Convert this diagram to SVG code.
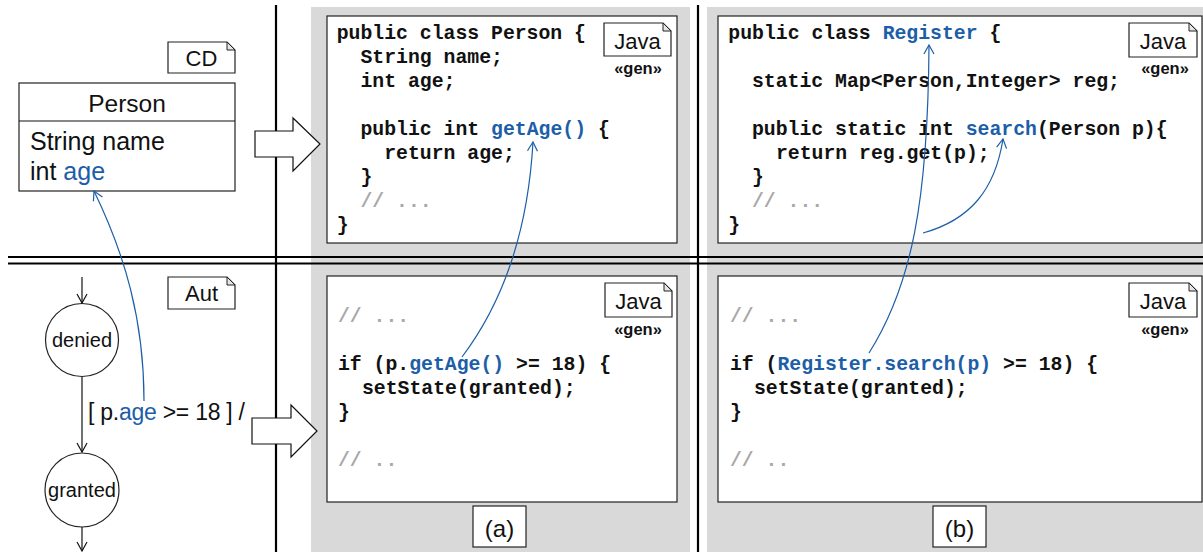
<svg xmlns="http://www.w3.org/2000/svg" width="1203" height="552" viewBox="0 0 1203 552">
<defs>
<style>
.panel{fill:#d9d9d9}
.box{fill:#fff;stroke:#222;stroke-width:1.2}
.note{fill:#fff;stroke:#222;stroke-width:1.2}
.fold{fill:#e6e6e6;stroke:#222;stroke-width:1}
.sans{font-family:"Liberation Sans",Arial,sans-serif;fill:#111}
.code{font-family:"Liberation Mono","Courier New",monospace;font-weight:bold;font-size:19.8px;fill:#111}
.blue{fill:#1c5ea8}
.cmt{fill:#a8a8a8}
.gen{font-family:"Liberation Sans",Arial,sans-serif;font-weight:bold;font-size:16.5px;fill:#111}
.sep{stroke:#000;stroke-width:2.2;fill:none}
.trans{stroke:#111;stroke-width:1.2;fill:none}
.link{stroke:#1c5ea8;stroke-width:1.2;fill:none}
.big{fill:#fff;stroke:#111;stroke-width:1.2}
</style>
<marker id="ab" markerWidth="12" markerHeight="12" refX="10" refY="6" orient="auto" markerUnits="userSpaceOnUse">
<path d="M1,1 L10,6 L1,11" fill="none" stroke="#111" stroke-width="1.2"/>
</marker>
<marker id="ablue" markerWidth="12" markerHeight="12" refX="10" refY="6" orient="auto" markerUnits="userSpaceOnUse">
<path d="M1,1 L10,6 L1,11" fill="none" stroke="#1c5ea8" stroke-width="1.2"/>
</marker>
</defs>

<g id="panels">
<rect class="panel" x="311" y="7" width="379" height="545"/>
<rect class="panel" x="707" y="7" width="496" height="545"/>
</g>

<g id="separators">
<line class="sep" x1="276" y1="5" x2="276" y2="552"/>
<line class="sep" x1="698" y1="5" x2="698" y2="552"/>
<line class="sep" x1="8" y1="257" x2="1203" y2="257"/>
<line class="sep" x1="8" y1="263.5" x2="1203" y2="263.5"/>
</g>

<g id="cd-note">
<path class="note" d="M168,42 H227 L235,50 V73 H168 Z"/>
<path class="fold" d="M227,42 V50 H235 Z"/>
<text class="sans" x="201.5" y="66" font-size="22" text-anchor="middle">CD</text>
</g>

<g id="person-class">
<rect class="box" x="19" y="83" width="216" height="108"/>
<line class="trans" x1="19" y1="121" x2="235" y2="121"/>
<text class="sans" x="127" y="112" font-size="24.5" text-anchor="middle">Person</text>
<text class="sans" x="30" y="150" font-size="25">String name</text>
<text class="sans" x="30" y="180" font-size="25">int <tspan class="blue">age</tspan></text>
</g>

<g id="aut-note">
<path class="note" d="M168,277 H227 L235,285 V309 H168 Z"/>
<path class="fold" d="M227,277 V285 H235 Z"/>
<text class="sans" x="201.5" y="301" font-size="22" text-anchor="middle">Aut</text>
</g>

<g id="state-denied">
<circle class="box" cx="82" cy="340" r="36.5"/>
<text class="sans" x="82" y="347" font-size="20" text-anchor="middle">denied</text>
</g>

<g id="state-granted">
<circle class="box" cx="82" cy="490" r="37"/>
<text class="sans" x="82" y="497" font-size="20" text-anchor="middle">granted</text>
</g>

<g id="guard-label">
<text class="sans" x="88" y="420" font-size="23" textLength="157" lengthAdjust="spacing">[ p.<tspan class="blue">age</tspan> &gt;= 18 ] /</text>
</g>

<g id="block-arrows">
<path class="big" d="M255,131 H293 V118 L320,144 L293,171 V157 H255 Z"/>
<path class="big" d="M252,418 H291 V405 L317,431 L291,457 V444 H252 Z"/>
</g>

<g id="code-a-top">
<rect class="box" x="327" y="16" width="350" height="227"/>
<text class="code" x="336.7" y="39">public class Person {</text>
<text class="code" x="360.5" y="63">String name;</text>
<text class="code" x="360.5" y="87">int age;</text>
<text class="code" x="360.5" y="135">public int <tspan class="blue">getAge()</tspan> {</text>
<text class="code" x="384.2" y="159">return age;</text>
<text class="code" x="360.5" y="183">}</text>
<text class="code cmt" x="360.5" y="207">// ...</text>
<text class="code" x="336.7" y="231">}</text>
<path class="note" d="M604,23 H663 L671,31 V56 H604 Z"/>
<path class="fold" d="M663,23 V31 H671 Z"/>
<text class="sans" x="637.5" y="48.5" font-size="22" text-anchor="middle">Java</text>
<text class="gen" x="638" y="74" text-anchor="middle">«gen»</text>
</g>

<g id="code-b-top">
<rect class="box" x="718" y="16" width="484" height="227"/>
<text class="code" x="728.3" y="39">public class <tspan class="blue">Register</tspan> {</text>
<text class="code" x="752" y="87">static Map&lt;Person,Integer&gt; reg;</text>
<text class="code" x="752" y="135">public static int <tspan class="blue">search</tspan>(Person p){</text>
<text class="code" x="776" y="159">return reg.get(p);</text>
<text class="code" x="752" y="183">}</text>
<text class="code cmt" x="752" y="207">// ...</text>
<text class="code" x="728.3" y="231">}</text>
<path class="note" d="M1129,23 H1189 L1197,31 V57 H1129 Z"/>
<path class="fold" d="M1189,23 V31 H1197 Z"/>
<text class="sans" x="1163" y="48.5" font-size="22" text-anchor="middle">Java</text>
<text class="gen" x="1165" y="74" text-anchor="middle">«gen»</text>
</g>

<g id="code-a-bottom">
<rect class="box" x="327" y="276" width="350" height="226"/>
<text class="code cmt" x="338" y="322">// ...</text>
<text class="code" x="338" y="370">if (p.<tspan class="blue">getAge()</tspan> &gt;= 18) {</text>
<text class="code" x="362" y="394">setState(granted);</text>
<text class="code" x="338" y="418">}</text>
<text class="code cmt" x="338" y="466">// ..</text>
<path class="note" d="M605,283 H664 L672,291 V317 H605 Z"/>
<path class="fold" d="M664,283 V291 H672 Z"/>
<text class="sans" x="638.5" y="309" font-size="22" text-anchor="middle">Java</text>
<text class="gen" x="638" y="335" text-anchor="middle">«gen»</text>
</g>

<g id="code-b-bottom">
<rect class="box" x="718" y="276" width="484" height="226"/>
<text class="code cmt" x="730" y="322">// ...</text>
<text class="code" x="730" y="370">if (<tspan class="blue">Register.search(p)</tspan> &gt;= 18) {</text>
<text class="code" x="754" y="394">setState(granted);</text>
<text class="code" x="730" y="418">}</text>
<text class="code cmt" x="730" y="466">// ..</text>
<path class="note" d="M1129,283 H1189 L1197,291 V317 H1129 Z"/>
<path class="fold" d="M1189,283 V291 H1197 Z"/>
<text class="sans" x="1163" y="309" font-size="22" text-anchor="middle">Java</text>
<text class="gen" x="1165" y="335" text-anchor="middle">«gen»</text>
</g>

<g id="label-a">
<rect class="box" x="473" y="506" width="53" height="41"/>
<text class="sans" x="499.5" y="537" font-size="24" text-anchor="middle">(a)</text>
</g>

<g id="label-b">
<rect class="box" x="933" y="506" width="53" height="41"/>
<text class="sans" x="959.5" y="537" font-size="24" text-anchor="middle">(b)</text>
</g>

<g id="connectors">
<line class="trans" x1="82" y1="277" x2="82" y2="303" marker-end="url(#ab)"/>
<line class="trans" x1="82" y1="377" x2="82" y2="452" marker-end="url(#ab)"/>
<line class="trans" x1="82" y1="527" x2="82" y2="551" marker-end="url(#ab)"/>
<path class="link" d="M144,401 C144,320 125,255 94,191" marker-end="url(#ablue)"/>
<path class="link" d="M462,357 C505,300 528,230 533,142" marker-end="url(#ablue)"/>
<path class="link" d="M869,353 C912,285 928,200 929,45" marker-end="url(#ablue)"/>
<path class="link" d="M923,233 C970,220 995,190 1003,139" marker-end="url(#ablue)"/>
</g>
</svg>
